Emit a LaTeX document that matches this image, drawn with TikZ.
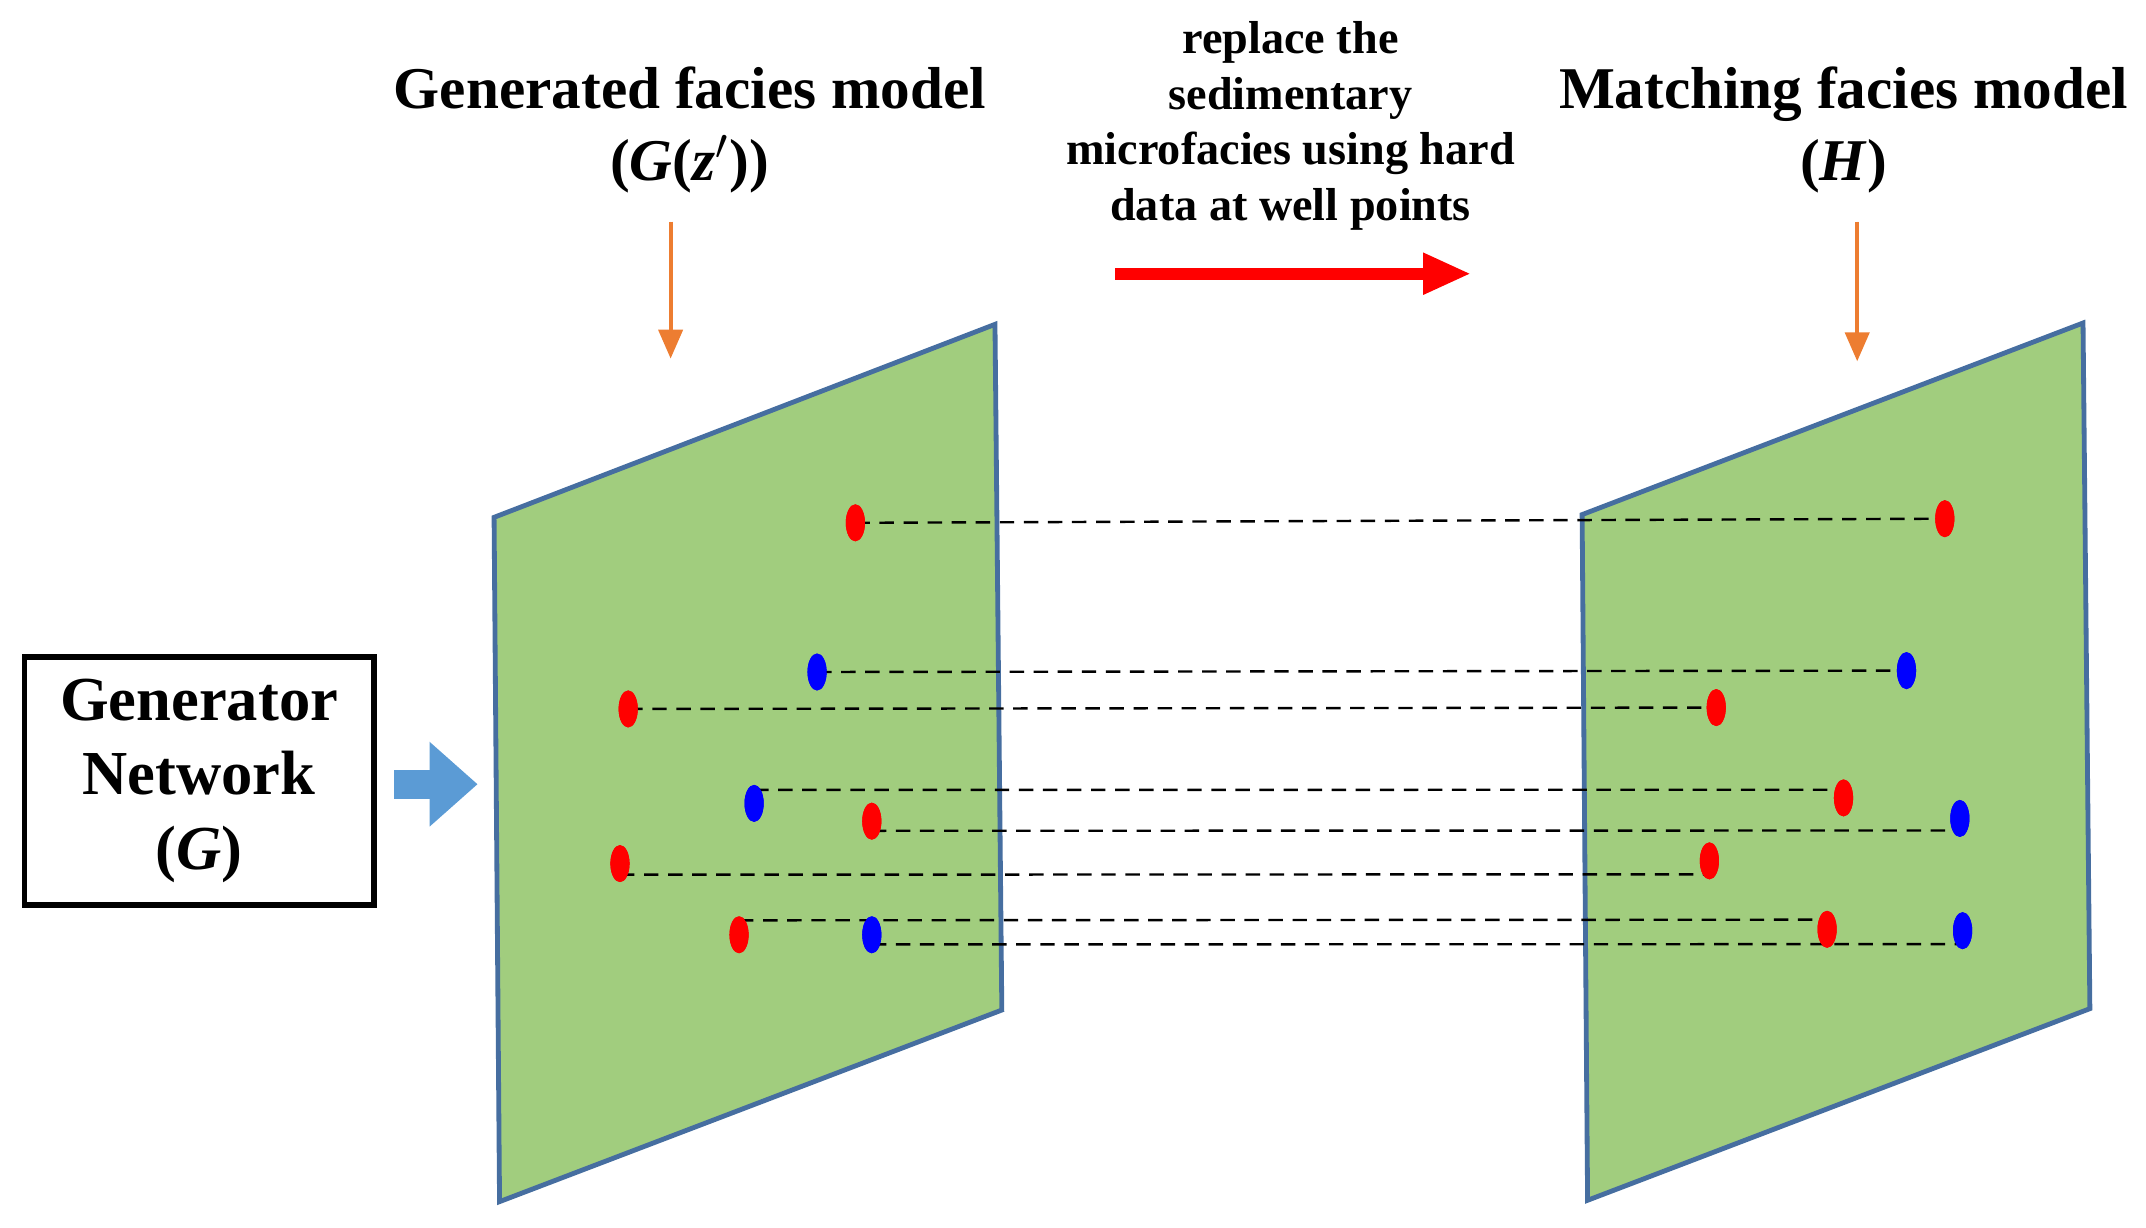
\documentclass[tikz,border=0pt]{standalone}
\usepackage{fontspec}
\setmainfont{Liberation Serif}
\usetikzlibrary{shapes.geometric,arrows.meta}
\begin{document}
\begin{tikzpicture}[x=0.01cm,y=-0.01cm,
 panel/.style={fill={rgb,255:red,161;green,205;blue,126},draw={rgb,255:red,70;green,110;blue,160},line width=1pt},
 rdot/.style={ellipse,fill=red,inner sep=0pt,minimum width=0.14cm,minimum height=0.27cm},
 bdot/.style={ellipse,fill=blue,inner sep=0pt,minimum width=0.14cm,minimum height=0.27cm},
 con/.style={line width=0.5pt,dash pattern=on 3pt off 2pt},
 oarr/.style={draw={rgb,255:red,237;green,125;blue,49},line width=0.8pt,-{Triangle[width=5pt,length=6pt]},fill={rgb,255:red,237;green,125;blue,49}},
 ttl/.style={font=\bfseries\fontsize{12.3}{15}\selectfont,align=center},
 sml/.style={font=\bfseries\fontsize{9.6}{11.6}\selectfont,align=center}]
\useasboundingbox (0,0) rectangle (1568,897);
\draw[panel] (361,378)--(727,237)--(732,738)--(365,878)--cycle;
\draw[panel] (1156,376)--(1522,236)--(1527,737)--(1160,877)--cycle;
\node[rdot] (l1) at (625,382) {};
\node[bdot] (l2) at (597,491) {};
\node[rdot] (l3) at (459,518) {};
\node[bdot] (l4) at (551,587) {};
\node[rdot] (l5) at (637,600) {};
\node[rdot] (l6) at (453,631) {};
\node[rdot] (l7) at (540,683) {};
\node[bdot] (l8) at (637,683) {};
\node[rdot] (r1) at (1421,379) {};
\node[bdot] (r2) at (1393,490) {};
\node[rdot] (r3) at (1254,517) {};
\node[rdot] (r4) at (1347,583) {};
\node[bdot] (r5) at (1432,598) {};
\node[rdot] (r6) at (1249,629) {};
\node[rdot] (r7) at (1335,679) {};
\node[bdot] (r8) at (1434,680) {};
\draw[con] (l1.center) -- (r1.center);
\draw[con] (l2.center) -- (r2.center);
\draw[con] (l3.center) -- (r3.center);
\draw[con] ([yshift=2.8pt]l4.center) -- ([yshift=1.7pt]r4.center);
\draw[con] ([yshift=-2pt]l5.center) -- ([yshift=-2.5pt]r5.center);
\draw[con] ([yshift=-2.3pt]l6.center) -- ([yshift=-2.8pt]r6.center);
\draw[con] ([yshift=3pt]l7.center) -- ([yshift=2pt]r7.center);
\draw[con] ([yshift=-2pt]l8.center) -- ([yshift=-2.8pt]r8.center);
\node[rdot] at (l1) {};\node[bdot] at (l2) {};\node[rdot] at (l3) {};\node[bdot] at (l4) {};
\node[rdot] at (l5) {};\node[rdot] at (l6) {};\node[rdot] at (l7) {};\node[bdot] at (l8) {};
\node[rdot] at (r1) {};\node[bdot] at (r2) {};\node[rdot] at (r3) {};\node[rdot] at (r4) {};
\node[bdot] at (r5) {};\node[rdot] at (r6) {};\node[rdot] at (r7) {};\node[bdot] at (r8) {};
\node[draw,line width=1.2pt,minimum width=2.55cm,minimum height=1.81cm,align=center,font=\bfseries\fontsize{13}{15.5}\selectfont] (gen) at (145.5,570.5) {Generator\\Network\\(\textit{G})};
\coordinate (ga) at (288,573);
\coordinate (gb) at (349,573);
\draw[-{Triangle[width=17pt,length=10pt]},line width=6pt,draw={rgb,255:red,91;green,155;blue,213}] (ga) -- (gb);
\node[ttl] (t1) at (504,95) {Generated facies model\\(\textit{G}(\textit{z}$'$))};
\node[ttl] (t2) at (1347,95) {Matching facies model\\(\textit{H})};
\node[sml] (t3) at (943,92) {replace the\\sedimentary\\microfacies using hard\\data at well points};
\coordinate (o1a) at (490,162); \coordinate (o1b) at (490,262);
\coordinate (o2a) at (1357,162); \coordinate (o2b) at (1357,264);
\draw[oarr] (o1a) -- (o1b);
\draw[oarr] (o2a) -- (o2b);
\coordinate (ra) at (815,200); \coordinate (rb) at (1075,200);
\draw[red,line width=2.5pt,-{Triangle[width=8pt,length=10pt]}] (ra) -- (rb);
\end{tikzpicture}
\end{document}
